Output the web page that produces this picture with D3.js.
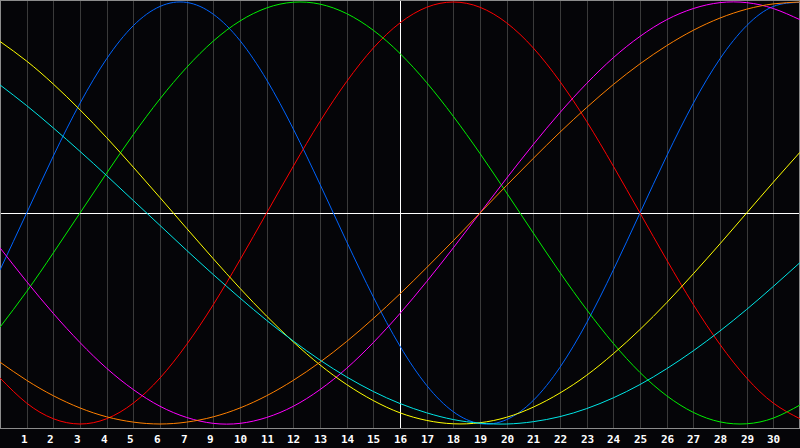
<!DOCTYPE html>
<html>
<head>
<meta charset="utf-8">
<script src="https://cdn.jsdelivr.net/npm/d3@7"></script>
<style>
    html, body { margin: 0; padding: 0; background: #050508; overflow: hidden; }
    svg { display: block; }
</style>
</head>
<body>
<script>

// Tagetiketter under rutnätet (8 saknas i originalet)
const dayLabels = [1, 2, 3, 4, 5, 6, 7, 9, 10, 11, 12, 13, 14, 15, 16, 17, 18, 19, 20,
    21, 22, 23, 24, 25, 26, 27, 28, 29, 30];

// Värden (-1..1) avlästa vid varje rutlinje, steg 0..30
const physical = [-0.27, 0, 0.27, 0.52, 0.731, 0.888, 0.979, 0.998, 0.942, 0.817, 0.631,
    0.398, 0.136, -0.136, -0.398, -0.631, -0.817, -0.942, -0.998, -0.979, -0.888,
    -0.731, -0.52, -0.27, 0, 0.27, 0.52, 0.731, 0.888, 0.979, 0.998];
const emotional = [-0.782, -0.901, -0.975, -1, -0.975, -0.901, -0.782, -0.623, -0.434,
    -0.222, 0, 0.222, 0.434, 0.623, 0.782, 0.901, 0.975, 1, 0.975, 0.901, 0.782,
    0.623, 0.434, 0.222, 0, -0.222, -0.434, -0.623, -0.782, -0.901, -0.975];
const intellectual = [-0.541, -0.372, -0.189, 0, 0.189, 0.372, 0.541, 0.69, 0.815, 0.91,
    0.972, 0.999, 0.99, 0.945, 0.866, 0.756, 0.618, 0.458, 0.282, 0.095, -0.095,
    -0.282, -0.458, -0.618, -0.756, -0.866, -0.945, -0.99, -0.999, -0.972, -0.91];
const intuitive = [-0.165, -0.325, -0.476, -0.614, -0.736, -0.837, -0.916, -0.969, -0.997,
    -0.997, -0.969, -0.916, -0.837, -0.736, -0.614, -0.476, -0.325, -0.165, 0, 0.165,
    0.325, 0.476, 0.614, 0.736, 0.837, 0.916, 0.969, 0.997, 0.997, 0.969, 0.916];
const aesthetic = [0.813, 0.72, 0.611, 0.489, 0.357, 0.217, 0.073, -0.073, -0.217, -0.357,
    -0.489, -0.611, -0.72, -0.813, -0.889, -0.947, -0.983, -0.999, -0.994, -0.968,
    -0.92, -0.853, -0.769, -0.667, -0.552, -0.425, -0.288, -0.146, 0, 0.146, 0.288];
const awareness = [-0.707, -0.793, -0.866, -0.924, -0.966, -0.991, -1, -0.991, -0.966,
    -0.924, -0.866, -0.793, -0.707, -0.609, -0.5, -0.383, -0.259, -0.131, 0, 0.131,
    0.259, 0.383, 0.5, 0.609, 0.707, 0.793, 0.866, 0.924, 0.966, 0.991, 1];
const spiritual = [0.607, 0.509, 0.403, 0.292, 0.177, 0.059, -0.059, -0.177, -0.292,
    -0.403, -0.509, -0.607, -0.697, -0.777, -0.846, -0.903, -0.947, -0.979, -0.996,
    -1, -0.989, -0.965, -0.927, -0.876, -0.813, -0.738, -0.653, -0.559, -0.457,
    -0.348, -0.235];

const series = [physical, emotional, intellectual, intuitive, aesthetic, awareness, spiritual];
const colors = ['#0064ff', '#ff0000', '#00f000', '#ff00ff', '#ffff00', '#ff8000', '#00e6e6'];

const width = 800, height = 448, plotBottom = 428;

const x = d3.scaleLinear().domain([0, 30]).range([0, 800]);
const y = d3.scaleLinear().domain([-1, 1]).range([424, 2]);

const svg = d3.select('body').append('svg')
    .attr('width', width)
    .attr('height', height)
    .style('background', '#050508');

// vertikala rutlinjer
svg.selectAll('line.grid')
    .data(d3.range(1, 30))
    .enter()
    .append('line')
        .attr('class', 'grid')
        .attr('x1', d => Math.round(x(d)) + 0.5)
        .attr('x2', d => Math.round(x(d)) + 0.5)
        .attr('y1', 0)
        .attr('y2', plotBottom)
        .attr('stroke', d => d === 15 ? '#ffffff' : '#3a3a3a')
        .attr('shape-rendering', 'crispEdges');

// nollinjen
svg.append('line')
    .attr('x1', 0).attr('x2', width)
    .attr('y1', Math.round(y(0)) + 0.5)
    .attr('y2', Math.round(y(0)) + 0.5)
    .attr('stroke', '#ffffff')
    .attr('shape-rendering', 'crispEdges');

// ram runt diagrammet
svg.append('rect')
    .attr('x', 0.5).attr('y', 0.5)
    .attr('width', width - 1)
    .attr('height', plotBottom)
    .attr('fill', 'none')
    .attr('stroke', '#8c8c8c')
    .attr('shape-rendering', 'crispEdges');

const line = d3.line()
    .x((d, i) => x(i))
    .y(d => y(d))
    .curve(d3.curveNatural);

svg.selectAll('path.cycle')
    .data(series)
    .enter()
    .append('path')
        .attr('class', 'cycle')
        .attr('d', line)
        .attr('fill', 'none')
        .attr('stroke', (d, i) => colors[i])
        .attr('stroke-width', 1);

// etiketter längs nederkanten
svg.selectAll('text.day')
    .data(dayLabels)
    .enter()
    .append('text')
        .attr('class', 'day')
        .attr('x', (d, i) => Math.round(x(i + 1)) - 6)
        .attr('y', 443)
        .attr('fill', '#ffffff')
        .style('font-family', '"DejaVu Sans Mono", monospace')
        .style('font-weight', 'bold')
        .style('font-size', '11px')
        .text(d => d);

</script>
</body>
</html>
